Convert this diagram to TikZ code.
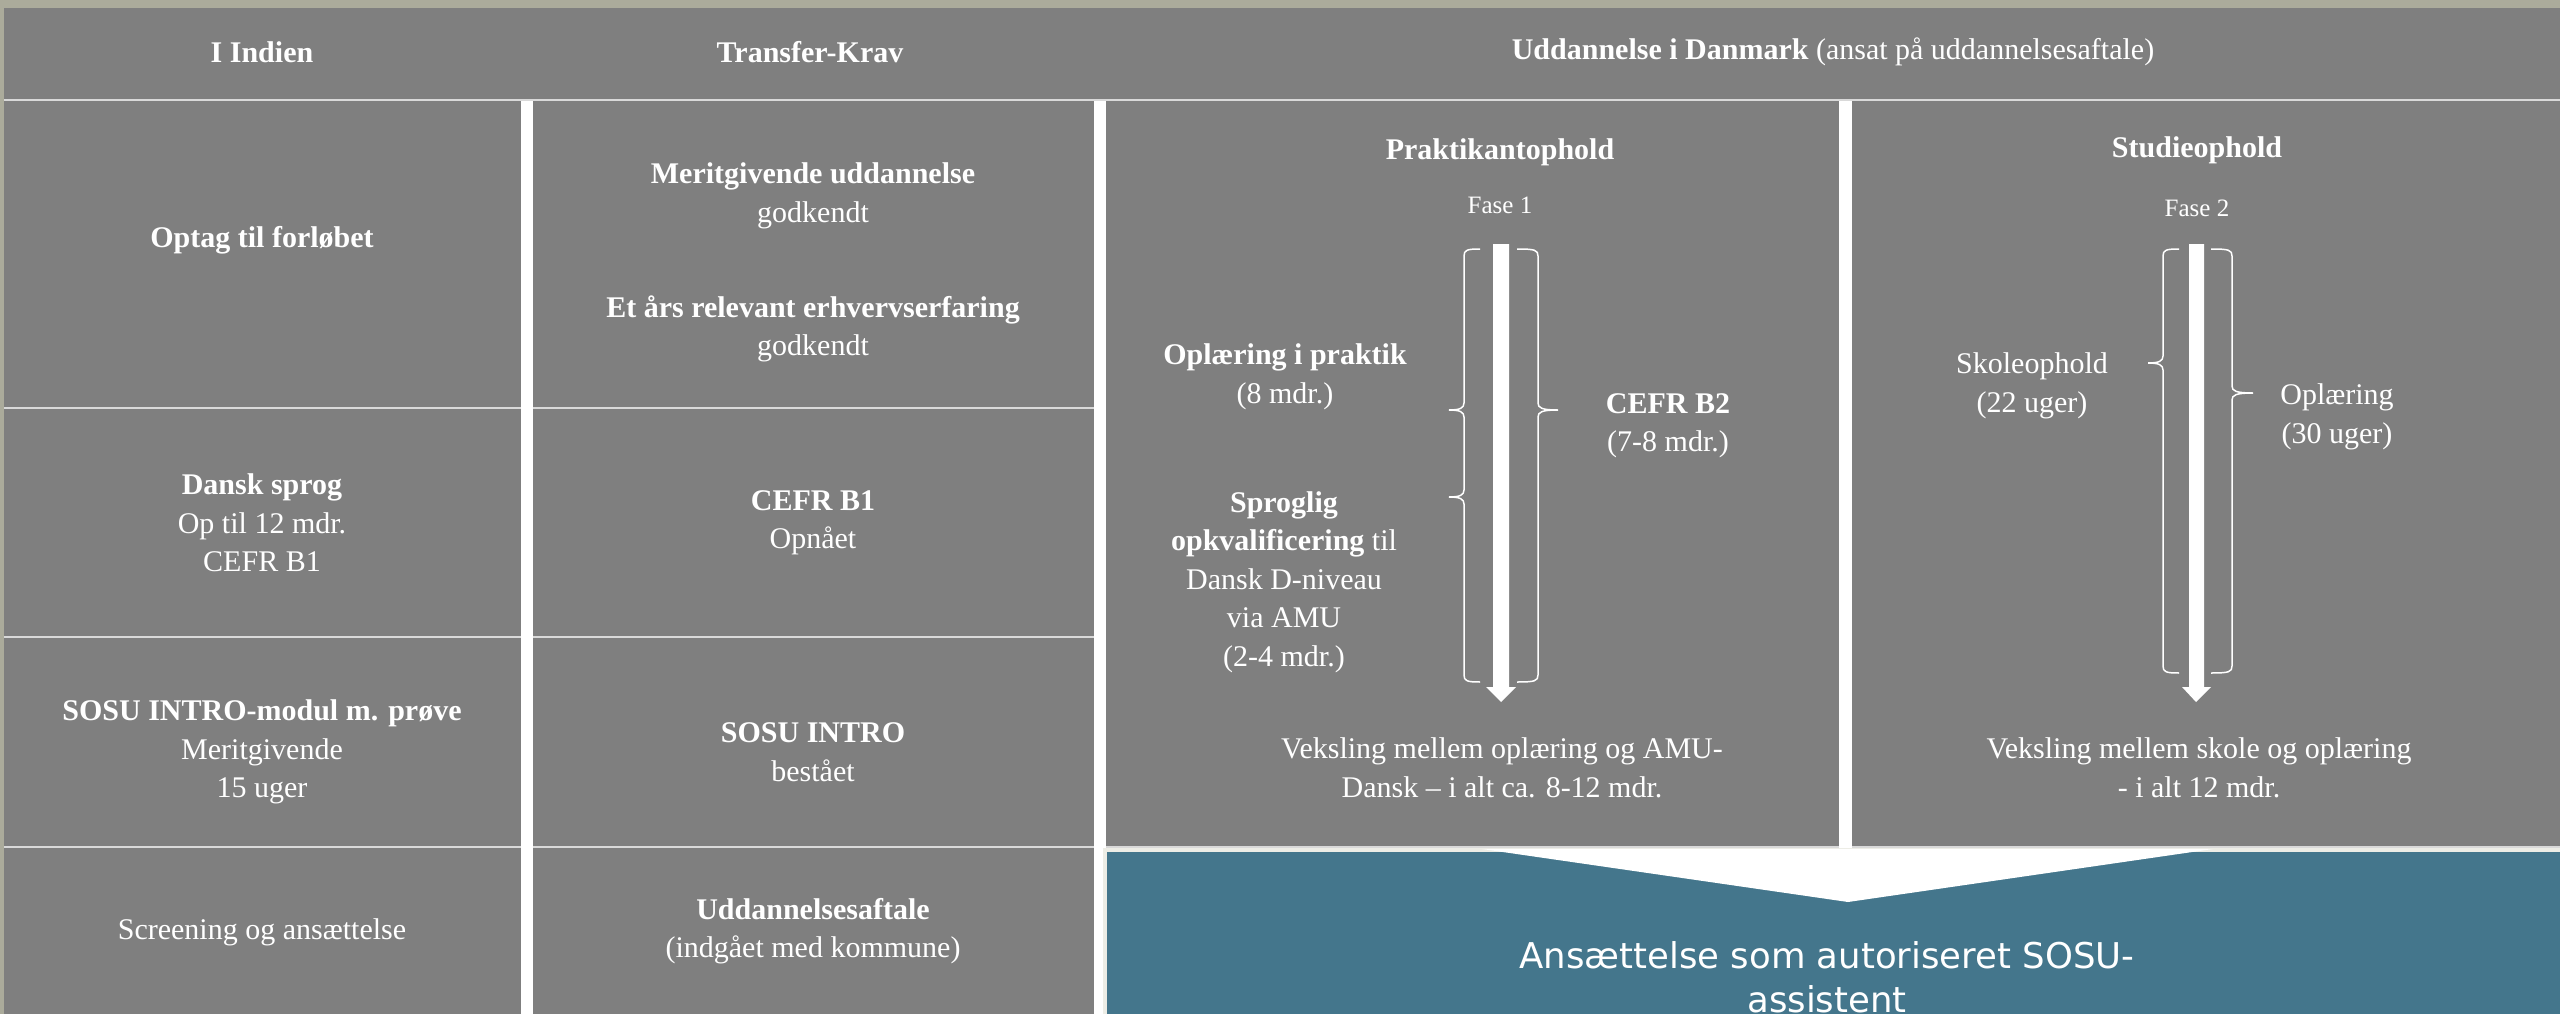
\documentclass[tikz,border=0pt]{standalone}
\usepackage{fontspec}
\setmainfont{Liberation Serif}
\newfontfamily\sansv{DejaVu Sans}
\definecolor{cellgrey}{HTML}{7F7F7F}
\definecolor{cellline}{HTML}{D9D9D9}
\definecolor{framebeige}{HTML}{ABAB9B}
\definecolor{tealpanel}{HTML}{44768C}
\definecolor{tealrim}{HTML}{EDEDE6}
\begin{document}
\begin{tikzpicture}[x=1pt,y=-1pt,
  cell/.style={fill=cellgrey},
  rule/.style={draw=cellline, line width=2pt},
  txt/.style={text=white, align=center, inner sep=0pt, font=\fontsize{30}{38.5}\selectfont},
  smalltxt/.style={text=white, align=center, inner sep=0pt, font=\fontsize{25}{30}\selectfont},
  bigsans/.style={text=white, align=center, inner sep=0pt, font=\sansv\fontsize{35.5}{44}\selectfont},
  brace/.style={draw=white, line width=1.5pt},
  timearrow/.style={fill=white}
]
\useasboundingbox (0,0) rectangle (2560,1014);
\fill[white] (0,0) rectangle (2560,1014);
\fill[framebeige] (0,0) rectangle (2560,8);
\fill[framebeige] (0,0) rectangle (4,1014);

% header
\fill[cell] (4,8) rectangle (2560,99);
\draw[rule] (4,100) -- (2560,100);

% column 1 and 2
\fill[cell] (4,101) rectangle (521,1014);
\fill[cell] (533,101) rectangle (1094,1014);
\foreach \yy in {408,637,847} {
  \draw[rule] (4,\yy) -- (521,\yy);
  \draw[rule] (533,\yy) -- (1094,\yy);
}

% column 3 and 4
\fill[cell] (1106,101) rectangle (1839,847);
\fill[cell] (1852,101) rectangle (2560,847);
\draw[rule] (1106,847) -- (1839,847);
\draw[rule] (1852,847) -- (2560,847);

% teal result panel
\fill[tealrim] (1103,848) rectangle (2560,1014);
\fill[tealpanel] (1107,852) rectangle (2560,1014);
\fill[white] (1482,849) -- (2213,849) -- (1848,902) -- cycle;

% header texts
\node[txt] (hIndien) at (262,52) {\textbf{I Indien}};
\node[txt] (hTransfer) at (810,52) {\textbf{Transfer-Krav}};
\node[txt] (hDanmark) at (1833,52) {\textbf{Uddannelse i Danmark} (ansat på uddannelsesaftale)};

% column 1
\node[txt] (optag) at (262,240) {\textbf{Optag til forløbet}};
\node[txt] (dansk) at (262,523) {\textbf{Dansk sprog}\\Op til 12 mdr.\\CEFR B1};
\node[txt] (intro) at (262,752) {\textbf{SOSU INTRO-modul m. prøve}\\Meritgivende\\15 uger};
\node[txt] (screen) at (262,932) {Screening og ansættelse};

% column 2
\node[txt] (merit) at (813,196) {\textbf{Meritgivende uddannelse}\\godkendt};
\node[txt] (erhverv) at (813,329) {\textbf{Et års relevant erhvervserfaring}\\godkendt};
\node[txt] (cefrb1) at (813,523) {\textbf{CEFR B1}\\Opnået};
\node[txt] (introok) at (813,752) {\textbf{SOSU INTRO}\\bestået};
\node[txt] (aftale) at (813,931) {\textbf{Uddannelsesaftale}\\(indgået med kommune)};

% column 3: Praktikantophold
\node[txt] (praktik) at (1500,152) {\textbf{Praktikantophold}};
\node[smalltxt] (fase1) at (1500,205) {Fase 1};
\fill[timearrow] (1493,244) -- (1509,244) -- (1509,687) -- (1516,687) -- (1501,702) -- (1486,687) -- (1493,687) -- cycle;
\draw[brace] (1480,249) .. controls (1467,249) and (1464,250) .. (1464,256)
  -- (1464,403) .. controls (1464,408) and (1460,410) .. (1449,410)
  .. controls (1460,410) and (1464,412) .. (1464,417)
  -- (1464,490) .. controls (1464,495) and (1460,497) .. (1449,497)
  .. controls (1460,497) and (1464,499) .. (1464,504)
  -- (1464,675) .. controls (1464,681) and (1467,682) .. (1480,682);
\draw[brace] (1517,249) .. controls (1535,249) and (1538,250) .. (1538,256)
  -- (1538,403) .. controls (1538,408) and (1542,410) .. (1558,410)
  .. controls (1542,410) and (1538,412) .. (1538,417)
  -- (1538,675) .. controls (1538,681) and (1535,682) .. (1517,682);
\node[txt] (oplpraktik) at (1285,377) {\textbf{Oplæring i praktik}\\(8 mdr.)};
\node[txt] (cefrb2) at (1668,426) {\textbf{CEFR B2}\\(7-8 mdr.)};
\node[txt] (sproglig) at (1284,582) {\textbf{Sproglig}\\\textbf{opkvalificering} til\\Dansk D-niveau\\via AMU\\(2-4 mdr.)};
\node[txt] (veksling1) at (1502,768) {Veksling mellem oplæring og AMU-\\Dansk -- i alt ca. 8-12 mdr.};

% column 4: Studieophold
\node[txt] (studie) at (2197,150) {\textbf{Studieophold}};
\node[smalltxt] (fase2) at (2197,208) {Fase 2};
\fill[timearrow] (2189,244) -- (2204,244) -- (2204,687) -- (2211,687) -- (2196,702) -- (2182,687) -- (2189,687) -- cycle;
\draw[brace] (2179,249) .. controls (2166,249) and (2163,250) .. (2163,256)
  -- (2163,356) .. controls (2163,361) and (2159,363) .. (2148,363)
  .. controls (2159,363) and (2163,365) .. (2163,370)
  -- (2163,666) .. controls (2163,672) and (2166,673) .. (2179,673);
\draw[brace] (2211,249) .. controls (2229,249) and (2232,250) .. (2232,256)
  -- (2232,386) .. controls (2232,391) and (2236,393) .. (2253,393)
  .. controls (2236,393) and (2232,395) .. (2232,400)
  -- (2232,666) .. controls (2232,672) and (2229,673) .. (2211,673);
\node[txt] (skole) at (2032,386) {Skoleophold\\(22 uger)};
\node[txt] (oplaering) at (2337,417) {Oplæring\\(30 uger)};
\node[txt] (veksling2) at (2199,768) {Veksling mellem skole og oplæring\\- i alt 12 mdr.};

% result
\node[bigsans] (result) at (1827,977) {Ansættelse som autoriseret SOSU-\\assistent};
\end{tikzpicture}
\end{document}
